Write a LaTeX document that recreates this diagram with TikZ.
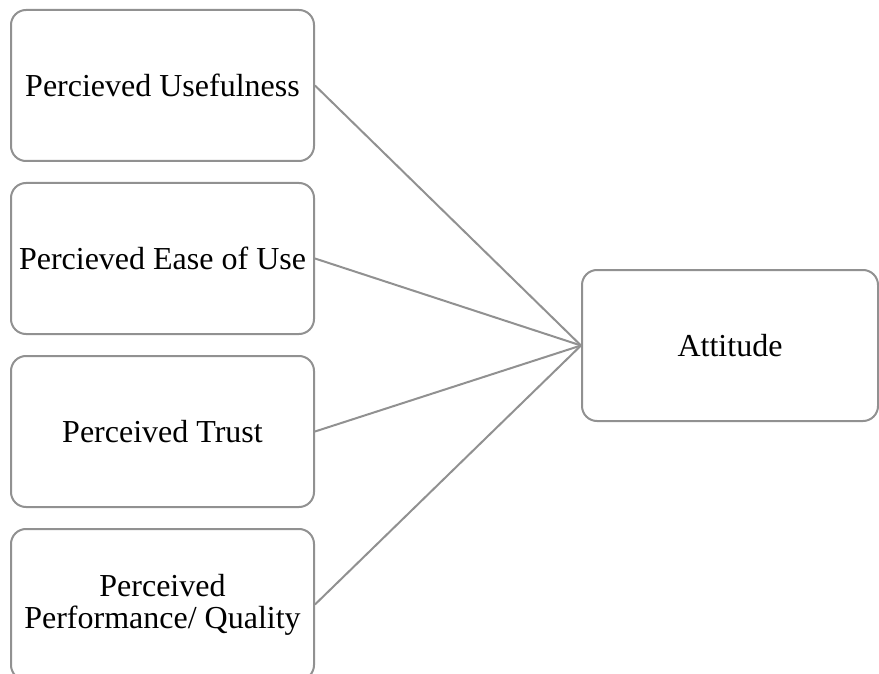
\documentclass[tikz,border=0pt]{standalone}
\usepackage{fontspec}
\setmainfont{Liberation Serif}
\definecolor{boxgray}{RGB}{145,145,145}
\begin{document}
\begin{tikzpicture}[x=1pt,y=-1pt,
  box/.style={draw=boxgray, line width=2pt, rounded corners=15pt, fill=white,
    minimum width=303pt, minimum height=151pt, inner sep=0pt, align=center,
    font=\fontsize{32}{32}\selectfont},
  link/.style={draw=boxgray, line width=2pt}]
\useasboundingbox (0,0) rectangle (879,674);
\node[box] (pu) at (162.5,85.5) {Percieved Usefulness};
\node[box] (pe) at (162.5,258.5) {Percieved Ease of Use};
\node[box] (pt) at (162.5,431.5) {Perceived Trust};
\node[box] (pp) at (162.5,604.5) {Perceived\\Performance/ Quality};
\node[box, minimum width=296pt] (at) at (730,345.5) {Attitude};
\draw[link] (pu.east) -- (at.west);
\draw[link] (pe.east) -- (at.west);
\draw[link] (pt.east) -- (at.west);
\draw[link] (pp.east) -- (at.west);
\end{tikzpicture}
\end{document}
